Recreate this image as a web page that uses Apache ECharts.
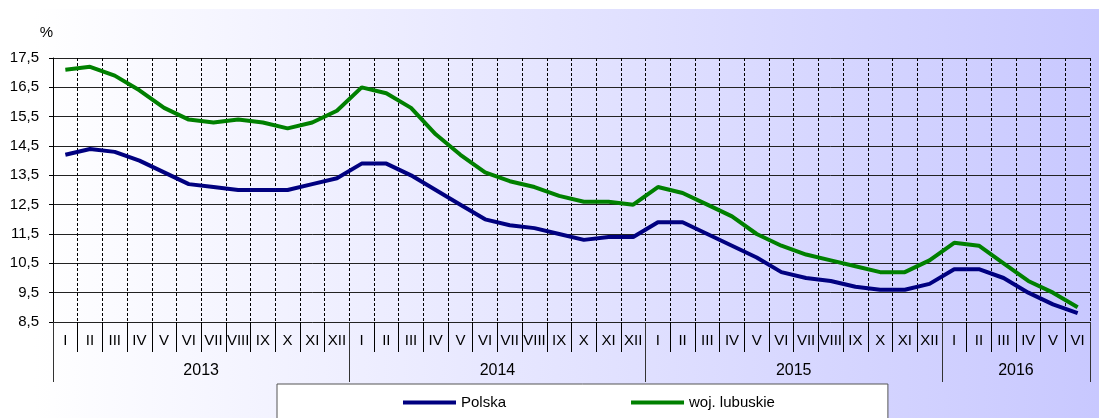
<!DOCTYPE html>
<html lang="pl">

<head>
    <meta charset="UTF-8">
    <title>Stopa bezrobocia</title>
    <script src="https://cdn.jsdelivr.net/npm/echarts@6/dist/echarts.min.js"></script>
    <style>
        html, body { margin: 0; padding: 0; background: #fff; }
        #chart { width: 1099px; height: 418px; }
    </style>
</head>

<body>
    <div id="chart"></div>
    <script>
        // miesiace (kategorie osi X)
        var months = ['I', 'II', 'III', 'IV', 'V', 'VI', 'VII', 'VIII', 'IX', 'X', 'XI', 'XII',
            'I', 'II', 'III', 'IV', 'V', 'VI', 'VII', 'VIII', 'IX', 'X', 'XI', 'XII',
            'I', 'II', 'III', 'IV', 'V', 'VI', 'VII', 'VIII', 'IX', 'X', 'XI', 'XII',
            'I', 'II', 'III', 'IV', 'V', 'VI'];
        var years = ['2013', '2014', '2015', '2016'];
        var yearMonths = [12, 12, 12, 6]; // ile miesiecy w kazdym roku
        var yTicks = [8.5, 9.5, 10.5, 11.5, 12.5, 13.5, 14.5, 15.5, 16.5, 17.5];

        // stopa bezrobocia w %
        var polska = [14.2, 14.4, 14.3, 14.0, 13.6, 13.2, 13.1, 13.0, 13.0, 13.0, 13.2, 13.4,
            13.9, 13.9, 13.5, 13.0, 12.5, 12.0, 11.8, 11.7, 11.5, 11.3, 11.4, 11.4,
            11.9, 11.9, 11.5, 11.1, 10.7, 10.2, 10.0, 9.9, 9.7, 9.6, 9.6, 9.8,
            10.3, 10.3, 10.0, 9.5, 9.1, 8.8];
        var lubuskie = [17.1, 17.2, 16.9, 16.4, 15.8, 15.4, 15.3, 15.4, 15.3, 15.1, 15.3, 15.7,
            16.5, 16.3, 15.8, 14.9, 14.2, 13.6, 13.3, 13.1, 12.8, 12.6, 12.6, 12.5,
            13.1, 12.9, 12.5, 12.1, 11.5, 11.1, 10.8, 10.6, 10.4, 10.2, 10.2, 10.6,
            11.2, 11.1, 10.5, 9.9, 9.5, 9.0];

        // granice lat i srodki (do drugiej osi X)
        var yearEdges = [0];
        var yearMids = [];
        for (var i = 0; i < yearMonths.length; i++) {
            yearMids.push(yearEdges[i] + yearMonths[i] / 2);
            yearEdges.push(yearEdges[i] + yearMonths[i]);
        }

        var font = 'Liberation Sans, Arial, sans-serif';
        var chart = echarts.init(document.getElementById('chart'));

        var option = {
            animation: false,
            textStyle: { fontFamily: font },
            graphic: [{
                type: 'rect',
                z: -10,
                shape: { x: 33, y: 9, width: 1066, height: 409 },
                style: {
                    fill: new echarts.graphic.LinearGradient(0, 0, 1, 0, [
                        { offset: 0, color: '#ffffff' },
                        { offset: 1, color: '#c8c8ff' }
                    ])
                }
            }],
            grid: { left: 53, right: 9, top: 58, bottom: 96 },
            legend: {
                left: 277,
                top: 384,
                padding: [11, 113, 40, 126],
                itemGap: 125,
                icon: 'rect',
                itemWidth: 53,
                itemHeight: 4,
                backgroundColor: '#fff',
                borderColor: '#555',
                borderWidth: 1,
                textStyle: { fontSize: 15, color: '#000', fontFamily: font },
                data: ['Polska', 'woj. lubuskie']
            },
            xAxis: [{
                type: 'category',
                data: months,
                boundaryGap: true,
                position: 'bottom',
                axisLine: { show: false },
                axisTick: { show: true, length: 30, lineStyle: { color: '#000', width: 1 } },
                axisLabel: { interval: 0, margin: 11, fontSize: 15, color: '#000', fontFamily: font },
                splitLine: { show: true, lineStyle: { color: '#000', width: 1, type: [3, 2] } }
            }, {
                type: 'value',
                min: 0,
                max: months.length,
                position: 'bottom',
                axisLine: { show: false },
                axisTick: { show: true, length: 60, customValues: yearEdges, lineStyle: { color: '#333', width: 1 } },
                axisLabel: {
                    customValues: yearMids,
                    margin: 41,
                    fontSize: 16,
                    color: '#000',
                    fontFamily: font,
                    formatter: function(v) {
                        return years[yearMids.indexOf(v)];
                    }
                },
                splitLine: { show: false }
            }],
            yAxis: {
                type: 'value',
                min: 8.5,
                max: 17.5,
                name: '%',
                nameLocation: 'end',
                nameGap: 18,
                nameTextStyle: { fontSize: 15, color: '#000', align: 'right', fontFamily: font },
                axisLine: { show: true, lineStyle: { color: '#000', width: 1 } },
                axisTick: { show: true, length: 4, customValues: yTicks, lineStyle: { color: '#000' } },
                axisLabel: {
                    customValues: yTicks,
                    margin: 14,
                    fontSize: 15,
                    color: '#000',
                    fontFamily: font,
                    formatter: function(v) {
                        return v.toFixed(1).replace('.', ',');
                    }
                },
                splitLine: { show: true, lineStyle: { color: '#222', width: 1 } }
            },
            series: [{
                name: 'Polska',
                type: 'line',
                data: polska,
                symbol: 'none',
                lineStyle: { color: '#000080', width: 4 },
                itemStyle: { color: '#000080' }
            }, {
                name: 'woj. lubuskie',
                type: 'line',
                data: lubuskie,
                symbol: 'none',
                lineStyle: { color: '#008000', width: 4 },
                itemStyle: { color: '#008000' }
            }]
        };

        chart.setOption(option);
    </script>
</body>

</html>
